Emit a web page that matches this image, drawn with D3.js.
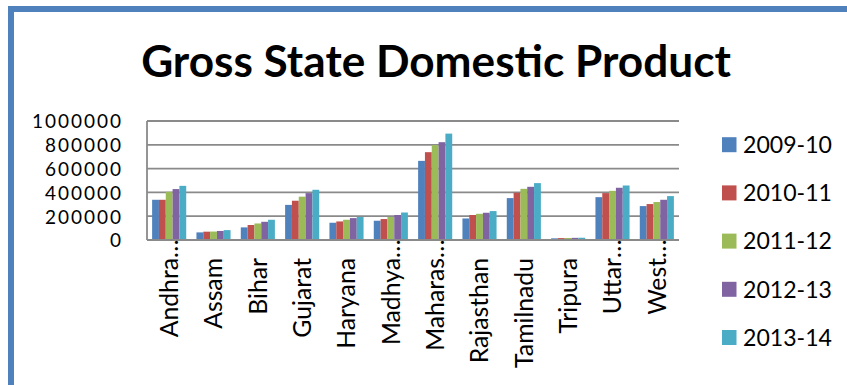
<!DOCTYPE html>
<html>
<head>
<meta charset="utf-8">
<script src="https://cdn.jsdelivr.net/npm/d3@7"></script>
<style>
  html, body { margin: 0; padding: 0; background: #fff; }
  svg { display: block; }
  text { font-family: Lato, "Open Sans", sans-serif; fill: #000; }
</style>
</head>
<body>
<svg id="chart" width="847" height="385"></svg>
<script>
// Gross State Domestic Product by state, five fiscal years
const states = ["Andhra Pradesh", "Assam", "Bihar", "Gujarat", "Haryana", "Madhya Pradesh",
  "Maharashtra", "Rajasthan", "Tamilnadu", "Tripura", "Uttar Pradesh", "West Bengal"];
const stateLabels = ["Andhra…", "Assam", "Bihar", "Gujarat", "Haryana", "Madhya…",
  "Maharas…", "Rajasthan", "Tamilnadu", "Tripura", "Uttar…", "West…"];
const years = ["2009-10", "2010-11", "2011-12", "2012-13", "2013-14"];

const gsdp2009 = [338000, 64000, 106000, 295000, 145000, 162000, 665000, 181000, 352000, 14000, 360000, 285000];
const gsdp2010 = [338000, 70000, 126000, 330000, 156000, 176000, 738000, 210000, 397000, 16000, 394000, 302000];
const gsdp2011 = [405000, 71000, 139000, 364000, 170000, 193000, 797000, 220000, 430000, 17000, 413000, 319000];
const gsdp2012 = [428000, 76000, 153000, 394000, 184000, 210000, 822000, 229000, 447000, 18000, 439000, 338000];
const gsdp2013 = [455000, 83000, 170000, 422000, 193000, 231000, 894000, 243000, 478000, 19000, 458000, 369000];

const yTicks = [0, 200000, 400000, 600000, 800000, 1000000];
const colors = ["#4F81BD", "#C0504D", "#9BBB59", "#8064A2", "#4BACC6"];

const series = [gsdp2009, gsdp2010, gsdp2011, gsdp2012, gsdp2013];
const rows = states.map((s, i) => ({ state: s, label: stateLabels[i], values: series.map(v => v[i]) }));

const svg = d3.select("#chart");

// frame: blue outline along the top and left edge
svg.append("path")
  .attr("d", "M11,392 L11,9 L860,9")
  .attr("fill", "none")
  .attr("stroke", "#4F81BD")
  .attr("stroke-width", 6);

// helper: scale a text's font-size so its rendered width hits a target
function fitWidth(sel, target, start) {
  sel.style("font-size", start + "px");
  const w = sel.node().getComputedTextLength();
  const fs = start * target / w;
  sel.style("font-size", fs + "px");
  return fs;
}

// title
const title = svg.append("text")
  .attr("x", 436).attr("y", 77)
  .attr("text-anchor", "middle")
  .style("font-weight", "bold")
  .text("Gross State Domestic Product");
fitWidth(title, 590, 48);

const plot = { left: 147, right: 679, top: 121, bottom: 240 };

const y = d3.scaleLinear().domain([0, 1000000]).range([plot.bottom, plot.top]);
const x0 = d3.scaleBand().domain(states).range([plot.left, plot.right]).padding(0);
const bw = x0.bandwidth() / 6.5;
const x1 = d3.scaleBand().domain(years)
  .range([0.75 * bw, x0.bandwidth() - 0.75 * bw]).padding(0);

// horizontal gridlines
svg.append("g")
  .selectAll("line")
  .data(yTicks.filter(t => t > 0))
  .join("line")
  .attr("x1", plot.left).attr("x2", plot.right)
  .attr("y1", d => y(d)).attr("y2", d => y(d))
  .attr("stroke", "#8a8a8a")
  .attr("stroke-width", 1.8);

// y axis labels: compact size, tracked out to the full label width
const yAxis = d3.axisLeft(y).tickValues(yTicks).tickFormat(d3.format("d")).tickSize(0).tickPadding(0);
const yg = svg.append("g").attr("transform", `translate(${plot.left - 26},0)`).call(yAxis);
yg.select(".domain").remove();
const yText = yg.selectAll("text")
  .attr("dy", "0.36em")
  .style("font-family", "Lato, sans-serif")
  .style("font-size", "19px");
const topLabel = yText.filter(d => d === 1000000);
const baseW = topLabel.node().getComputedTextLength();
const track = (91 - baseW) / 7;
// trailing tracking after the last digit is pushed back past the anchor
yText.style("letter-spacing", track + "px").attr("x", track);

// bars
const groups = svg.append("g")
  .selectAll("g")
  .data(rows)
  .join("g")
  .attr("transform", d => `translate(${x0(d.state)},0)`);

groups.selectAll("rect")
  .data(d => d.values.map((v, k) => ({ year: years[k], value: v, k })))
  .join("rect")
  .attr("x", d => x1(d.year))
  .attr("width", x1.bandwidth())
  .attr("y", d => y(d.value))
  .attr("height", d => y(0) - y(d.value))
  .attr("fill", d => colors[d.k]);

// axis lines
svg.append("line")
  .attr("x1", plot.left).attr("x2", plot.left)
  .attr("y1", plot.top).attr("y2", plot.bottom)
  .attr("stroke", "#8a8a8a").attr("stroke-width", 1.8);
svg.append("line")
  .attr("x1", plot.left).attr("x2", plot.right)
  .attr("y1", plot.bottom).attr("y2", plot.bottom)
  .attr("stroke", "#8a8a8a").attr("stroke-width", 1.8);

// rotated category labels; truncated names carry an ellipsis toward the axis
const labelEnd = 258;
const catG = svg.append("g");
const mainLabels = catG.selectAll("text.cat")
  .data(rows)
  .join("text")
  .attr("class", "cat")
  .attr("text-anchor", "end")
  .attr("dy", "0.36em")
  .attr("transform", d => `translate(${x0(d.state) + x0.bandwidth() / 2},${labelEnd}) rotate(-90)`)
  .text(d => d.label.replace("…", ""));
const cfs = fitWidth(mainLabels.filter(d => d.label === "Tamilnadu"), 110, 22);
mainLabels.style("font-size", cfs + "px");

catG.selectAll("text.ell")
  .data(rows.filter(d => d.label.endsWith("…")))
  .join("text")
  .attr("class", "ell")
  .attr("text-anchor", "start")
  .attr("dy", "0.36em")
  .attr("transform", d => `translate(${x0(d.state) + x0.bandwidth() / 2},${labelEnd}) rotate(-90)`)
  .style("font-size", cfs + "px")
  .text("…");

// legend
const legend = svg.append("g")
  .selectAll("g")
  .data(years)
  .join("g")
  .attr("transform", (d, i) => `translate(722,${144.7 + i * 48.2})`);
legend.append("rect")
  .attr("x", 0).attr("y", -7.5)
  .attr("width", 14.5).attr("height", 15)
  .attr("fill", (d, i) => colors[i]);
const legText = legend.append("text")
  .attr("x", 21).attr("dy", "0.36em")
  .text(d => d);
const lfs = fitWidth(legText.filter((d, i) => i === 0), 89, 24);
legText.style("font-size", lfs + "px");
</script>
</body>
</html>
